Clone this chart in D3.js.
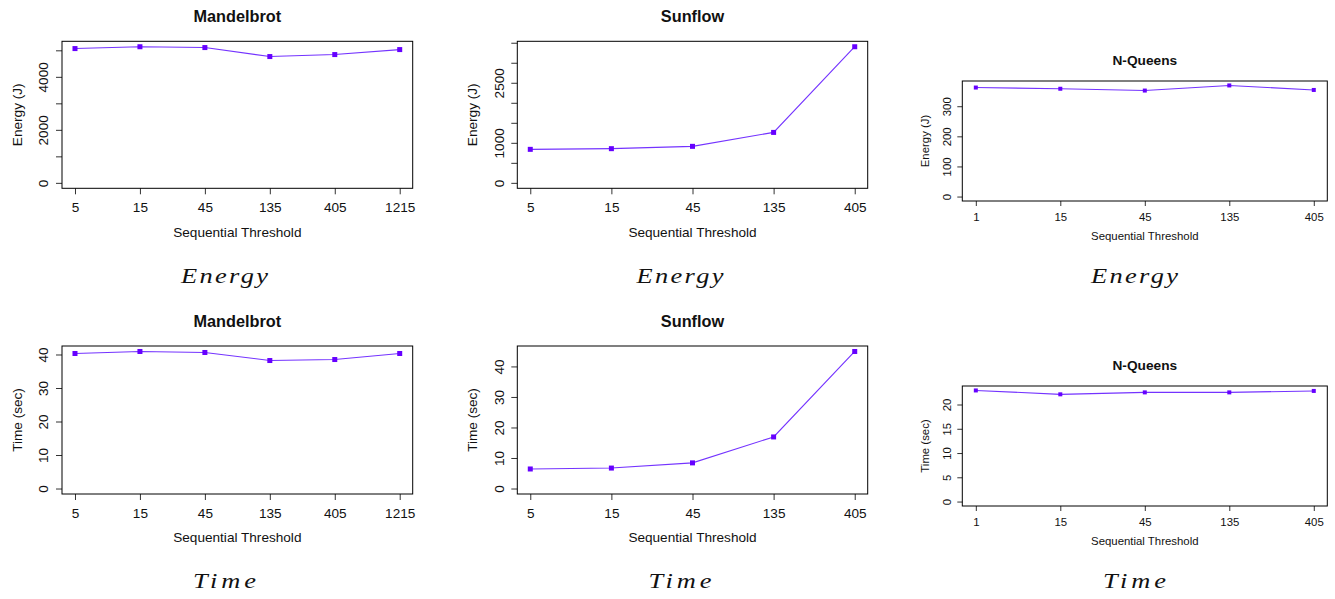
<!DOCTYPE html>
<html>
<head>
<meta charset="utf-8">
<script src="https://cdn.jsdelivr.net/npm/d3@7"></script>
<style>
  body { margin: 0; background: white; }
  text { fill: #111; }
</style>
</head>
<body>
<div id="chart"></div>
<script>
// thresholds for each benchmark
const mandelThresholds = ["5", "15", "45", "135", "405", "1215"]
const sunflowThresholds = ["5", "15", "45", "135", "405"]
const queensThresholds = ["1", "15", "45", "135", "405"]

// energy in joules
const mandelEnergy = [5066, 5135, 5104, 4765, 4840, 5028]
const sunflowEnergy = [837, 854, 912, 1260, 3400]
const queensEnergy = [362, 358, 352, 369, 354]

// time in seconds
const mandelTime = [40.3, 40.9, 40.6, 38.2, 38.5, 40.3]
const sunflowTime = [6.4, 6.7, 8.4, 16.9, 44.9]
const queensTime = [22.9, 22.1, 22.5, 22.5, 22.8]

// y tick values, and which of them get a label
const mandelEnergyTicks = [0, 1000, 2000, 3000, 4000, 5000]
const mandelEnergyLabels = [0, 2000, 4000]
const sunflowEnergyTicks = [0, 500, 1000, 1500, 2000, 2500, 3000, 3500]
const sunflowEnergyLabels = [0, 1000, 2500]
const queensEnergyTicks = [0, 100, 200, 300]
const timeTicks40 = [0, 10, 20, 30, 40]
const queensTimeTicks = [0, 5, 10, 15, 20]

const width = 1335
const height = 599

const createsvg = (g, width, height) => g
    .append("svg")
    .attr("viewBox", [0, 0, width, height])
    .attr("width", width)
    .attr("height", height)
    .style("border", "none");

const svg = createsvg(d3.select("#chart"), width, height)

// two sizes of panel: the R plots on the left are bigger than the N-Queens ones
const big = { font: 13.6, title: 16.3, tick: 6, xLab: 24, xTitle: 48.4, yLab: 13.7, yTitle: 40.5, titleOff: 19, marker: 5 }
const small = { font: 11.4, title: 13.7, tick: 5, xLab: 19.7, xTitle: 39, yLab: 11.6, yTitle: 33, titleOff: 16, marker: 4 }

function panel(box, sz, title, cats, values, ticks, labels, yTitle){
    const [x0, x1, y0, y1] = box
    const n = cats.length

    // R style: range extended by 4% on each side, ylim starts at 0
    const xScale = d3.scalePoint()
        .domain(cats)
        .range([x0, x1])
        .padding(0.04 * (n - 1))
    const maxVal = d3.max(values)
    const yScale = d3.scaleLinear()
        .domain([-0.04 * maxVal, 1.04 * maxVal])
        .range([y1, y0])

    const g = svg.append("g")

    //1. x axis
    const xAxis = g.append("g")
        .attr("transform", `translate(0,${y1})`)
        .call(d3.axisBottom(xScale).tickSize(sz.tick).tickPadding(0))
    xAxis.select(".domain").remove()
    xAxis.selectAll(".tick line").attr("stroke", "#333")
    xAxis.selectAll(".tick text")
        .attr("y", sz.xLab)
        .attr("dy", null)
        .attr("font-size", sz.font)
        .attr("font-family", "Liberation Sans, Arial, sans-serif")
        .attr("fill", "#111")

    //2. y axis with rotated labels
    const yAxis = g.append("g")
        .attr("transform", `translate(${x0},0)`)
        .call(d3.axisLeft(yScale)
            .tickValues(ticks)
            .tickSize(sz.tick)
            .tickFormat(d => labels.includes(d) ? d : ""))
    yAxis.select(".domain").remove()
    yAxis.selectAll(".tick line").attr("stroke", "#333")
    yAxis.selectAll(".tick text")
        .attr("transform", "rotate(-90)")
        .attr("x", 0)
        .attr("y", -sz.yLab)
        .attr("dy", null)
        .attr("text-anchor", "middle")
        .attr("font-size", sz.font)
        .attr("font-family", "Liberation Sans, Arial, sans-serif")
        .attr("fill", "#111")

    //3. box
    g.append("rect")
        .attr("x", x0)
        .attr("y", y0)
        .attr("width", x1 - x0)
        .attr("height", y1 - y0)
        .attr("fill", "none")
        .attr("stroke", "#000")
        .attr("stroke-width", 1)

    //4. line and square markers
    const pts = cats.map((c, i) => [c, values[i]])
    const line = d3.line()
        .x(d => xScale(d[0]))
        .y(d => yScale(d[1]))
    g.append("path")
        .datum(pts)
        .attr("fill", "none")
        .attr("stroke", "#7433ff")
        .attr("stroke-width", 1.1)
        .attr("d", line)
    g.selectAll(".pt")
        .data(pts)
        .join("rect")
        .attr("x", d => xScale(d[0]) - sz.marker / 2)
        .attr("y", d => yScale(d[1]) - sz.marker / 2)
        .attr("width", sz.marker)
        .attr("height", sz.marker)
        .attr("fill", "#6600ff")

    //5. titles
    const cx = (x0 + x1) / 2
    const cy = (y0 + y1) / 2
    g.append("text")
        .attr("x", cx)
        .attr("y", y0 - sz.titleOff)
        .attr("text-anchor", "middle")
        .attr("font-family", "Liberation Sans, Arial, sans-serif")
        .attr("font-weight", "bold")
        .attr("font-size", sz.title)
        .text(title)
    g.append("text")
        .attr("x", cx)
        .attr("y", y1 + sz.xTitle)
        .attr("text-anchor", "middle")
        .attr("font-family", "Liberation Sans, Arial, sans-serif")
        .attr("font-size", sz.font)
        .text("Sequential Threshold")
    g.append("text")
        .attr("transform", `translate(${x0 - sz.yTitle},${cy}) rotate(-90)`)
        .attr("text-anchor", "middle")
        .attr("font-family", "Liberation Sans, Arial, sans-serif")
        .attr("font-size", sz.font)
        .text(yTitle)
}

// sub-figure captions in math italic (glyphs a bit wider, like computer modern)
function caption(x, y, label, len){
    const stretch = 1.2
    svg.append("text")
        .attr("transform", `translate(${x - len / 2},${y}) scale(${stretch},1)`)
        .attr("textLength", len / stretch)
        .attr("lengthAdjust", "spacing")
        .attr("font-family", "Liberation Serif, Times New Roman, serif")
        .attr("font-style", "italic")
        .attr("font-size", 22)
        .text(label)
}

panel([62, 412.7, 41.3, 188.3], big, "Mandelbrot", mandelThresholds, mandelEnergy, mandelEnergyTicks, mandelEnergyLabels, "Energy (J)")
panel([517.3, 867.7, 41.3, 188.3], big, "Sunflow", sunflowThresholds, sunflowEnergy, sunflowEnergyTicks, sunflowEnergyLabels, "Energy (J)")
panel([962.3, 1327.3, 81, 201], small, "N-Queens", queensThresholds, queensEnergy, queensEnergyTicks, queensEnergyTicks, "Energy (J)")

panel([62, 412.7, 346, 494], big, "Mandelbrot", mandelThresholds, mandelTime, timeTicks40, timeTicks40, "Time (sec)")
panel([517.3, 867.7, 346, 494], big, "Sunflow", sunflowThresholds, sunflowTime, timeTicks40, timeTicks40, "Time (sec)")
panel([962.3, 1327.3, 386, 506], small, "N-Queens", queensThresholds, queensTime, queensTimeTicks, queensTimeTicks, "Time (sec)")

caption(224.5, 283.3, "Energy", 87)
caption(680, 283.3, "Energy", 87)
caption(1134.5, 283.3, "Energy", 87)
caption(224.5, 588.3, "Time", 63)
caption(680, 588.3, "Time", 63)
caption(1134.5, 588.3, "Time", 63)
</script>
</body>
</html>
